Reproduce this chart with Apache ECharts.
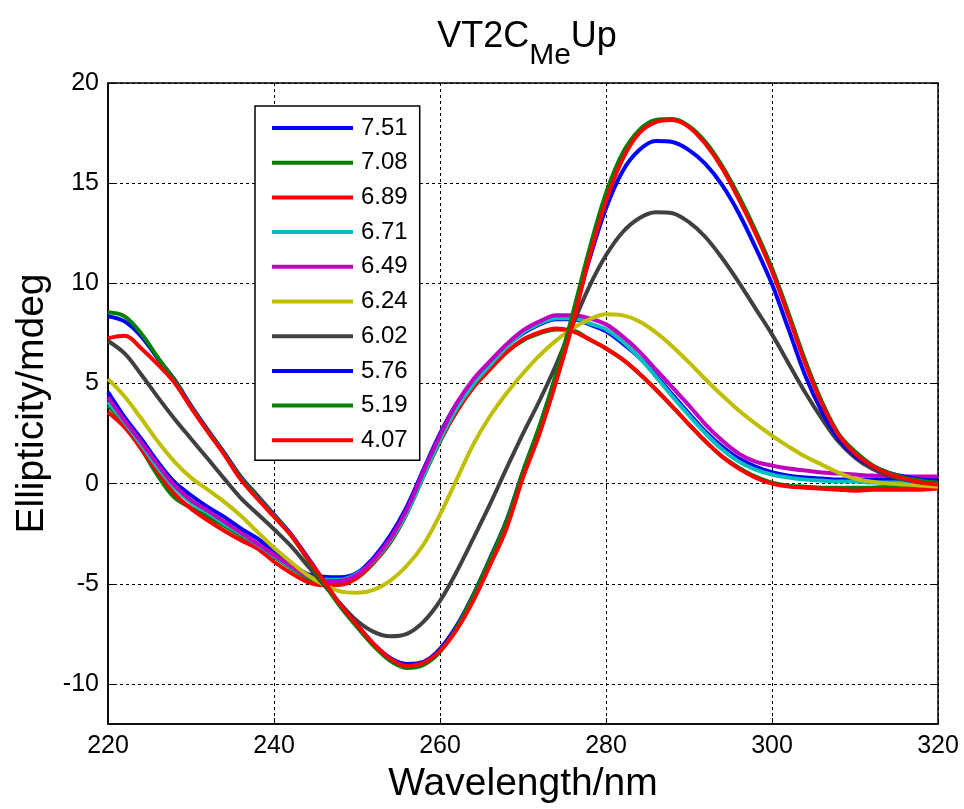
<!DOCTYPE html>
<html>
<head>
<meta charset="utf-8">
<script src="https://cdn.jsdelivr.net/npm/echarts@6/dist/echarts.min.js"></script>
<style>
html,body{margin:0;padding:0;background:#fff;}
#chart{width:964px;height:809px;}
</style>
</head>
<body>
<div id="chart"></div>
<script>
// Wavelength (nm)
const wavelengths = [220,222,224,226,228,230,232,234,236,238,240,242,244,246,248,250,252,254,256,258,260,262,264,266,268,270,272,274,276,278,280,282,284,286,288,290,292,294,296,298,300,302,304,306,308,310,312,314,316,318,320];

// Ellipticity (mdeg) per pH
const pH751 = [4.57,3.32,2.24,1.08,0.08,-0.58,-1.16,-1.66,-2.24,-2.74,-3.4,-3.99,-4.5,-4.65,-4.68,-4.45,-3.7,-2.6,-1.15,0.7,2.5,4.0,5.1,6.0,6.85,7.5,7.95,8.2,8.2,7.95,7.6,7.0,6.3,5.4,4.45,3.5,2.6,1.85,1.25,0.85,0.57,0.4,0.3,0.25,0.2,0.2,0.2,0.2,0.2,0.22,0.25];
const pH708 = [3.9,2.99,1.74,0.4,-0.7,-1.2,-1.65,-2.1,-2.6,-3.1,-3.65,-4.2,-4.7,-5.0,-5.0,-4.7,-3.95,-2.95,-1.5,0.35,2.1,3.6,4.8,5.7,6.55,7.15,7.5,7.7,7.65,7.2,6.75,6.2,5.5,4.7,3.85,2.95,2.1,1.35,0.8,0.35,0.05,-0.1,-0.15,-0.2,-0.2,-0.2,-0.2,-0.15,-0.15,-0.1,-0.1];
const pH689 = [3.57,2.82,1.74,0.58,-0.5,-1.25,-1.83,-2.35,-2.82,-3.24,-3.9,-4.45,-4.9,-5.07,-5.05,-4.7,-3.95,-2.9,-1.45,0.4,2.15,3.6,4.8,5.7,6.55,7.2,7.55,7.75,7.6,7.2,6.75,6.2,5.5,4.7,3.85,2.95,2.1,1.35,0.75,0.3,0.0,-0.15,-0.2,-0.25,-0.3,-0.35,-0.3,-0.3,-0.3,-0.3,-0.25];
const pH671 = [4.07,3.05,1.95,0.8,-0.2,-0.95,-1.45,-2.0,-2.5,-3.05,-3.6,-4.15,-4.6,-4.8,-4.8,-4.5,-3.85,-2.85,-1.45,0.4,2.2,3.75,4.95,5.9,6.8,7.55,8.0,8.25,8.25,8.0,7.7,7.1,6.3,5.35,4.35,3.4,2.5,1.7,1.1,0.7,0.45,0.3,0.2,0.15,0.1,0.1,0.05,0.05,0.05,0.05,0.0];
const pH649 = [4.32,3.15,2.08,0.95,-0.08,-0.83,-1.35,-1.9,-2.45,-3.0,-3.55,-4.1,-4.6,-4.87,-4.85,-4.55,-3.8,-2.75,-1.3,0.6,2.4,4.0,5.2,6.1,6.95,7.65,8.1,8.4,8.4,8.25,7.95,7.35,6.6,5.7,4.8,3.9,2.95,2.15,1.5,1.1,0.9,0.75,0.65,0.55,0.5,0.45,0.4,0.38,0.35,0.35,0.35];
const pH624 = [5.23,4.35,3.25,2.1,1.1,0.3,-0.3,-0.91,-1.6,-2.41,-3.2,-3.9,-4.55,-5.05,-5.38,-5.45,-5.3,-4.85,-4.1,-3.05,-1.55,0.2,1.95,3.35,4.5,5.5,6.4,7.15,7.75,8.2,8.45,8.4,8.1,7.55,6.85,6.05,5.2,4.4,3.65,3.0,2.4,1.85,1.35,0.95,0.55,0.25,0.1,0.0,-0.05,-0.1,-0.15];
const pH602 = [7.12,6.5,5.45,4.32,3.24,2.24,1.25,0.25,-0.72,-1.5,-2.28,-3.1,-4.07,-5.05,-6.0,-6.85,-7.4,-7.62,-7.5,-6.9,-5.85,-4.4,-2.75,-1.05,0.75,2.5,4.15,5.95,7.95,9.85,11.4,12.55,13.25,13.55,13.5,13.05,12.3,11.25,10.05,8.75,7.45,6.0,4.55,3.25,2.1,1.3,0.75,0.4,0.2,0.05,0.0];
const pH576 = [8.36,8.1,7.35,6.25,5.2,3.9,2.7,1.55,0.35,-0.6,-1.55,-2.5,-3.65,-4.85,-6.05,-7.05,-8.0,-8.7,-9.0,-8.9,-8.25,-7.1,-5.55,-3.75,-1.85,0.6,2.85,5.45,8.3,11.2,13.75,15.6,16.65,17.1,17.05,16.65,15.95,14.9,13.5,11.8,9.95,7.7,5.4,3.6,2.25,1.4,0.9,0.55,0.35,0.2,0.15];
const pH519 = [8.55,8.35,7.5,6.3,5.15,3.85,2.65,1.5,0.3,-0.65,-1.6,-2.55,-3.75,-4.95,-6.15,-7.15,-8.1,-8.85,-9.2,-9.05,-8.4,-7.2,-5.6,-3.8,-1.9,0.6,2.9,5.5,8.5,11.7,14.5,16.5,17.65,18.15,18.2,17.85,17.05,15.85,14.35,12.65,10.75,8.5,6.15,4.1,2.5,1.6,0.95,0.55,0.3,0.15,0.05];
const pH407 = [7.26,7.38,6.75,5.95,5.05,3.8,2.6,1.45,0.2,-0.75,-1.65,-2.55,-3.7,-4.85,-6.05,-7.05,-8.0,-8.75,-9.1,-8.95,-8.35,-7.3,-5.85,-4.1,-2.25,0.3,2.5,5.1,8.0,11.3,14.1,16.2,17.5,18.05,18.15,17.8,16.95,15.75,14.2,12.5,10.6,8.35,6.0,4.0,2.45,1.5,0.9,0.5,0.25,0.05,-0.05];

const seriesNames = ['7.51','7.08','6.89','6.71','6.49','6.24','6.02','5.76','5.19','4.07'];
const seriesValues = [pH751,pH708,pH689,pH671,pH649,pH624,pH602,pH576,pH519,pH407];
const seriesColors = ['#0000FF','#008000','#FF0000','#00BFBF','#BF00BF','#BFBF00','#404040','#0000FF','#008000','#FF0000'];

const xTicks = [220,240,260,280,300,320];
const yTicks = [-10,-5,0,5,10,15,20];

const FONT = '"Liberation Sans", Arial, Helvetica, sans-serif';

const chart = echarts.init(document.getElementById('chart'), null, {renderer:'canvas'});

const series = seriesNames.map((name, i) => ({
  name: name,
  type: 'line',
  xAxisIndex: 0,
  yAxisIndex: 0,
  data: wavelengths.map((w, j) => [w, seriesValues[i][j]]),
  symbol: 'none',
  smooth: 0.35,
  lineStyle: {color: seriesColors[i], width: 4},
  itemStyle: {color: seriesColors[i]},
  emphasis: {disabled: true},
  animation: false
}));

const option = {
  backgroundColor: '#ffffff',
  animation: false,
  title: {
    text: '{m|VT2C}{sub|Me}{m|Up}',
    left: 522,
    top: 14,
    textAlign: 'center',
    textStyle: {
      fontFamily: FONT,
      fontSize: 36,
      fontWeight: 'normal',
      color: '#000',
      rich: {
        m: {fontFamily: FONT, fontSize: 36, color: '#000', lineHeight: 36, verticalAlign: 'top'},
        sub: {fontFamily: FONT, fontSize: 30, color: '#000', lineHeight: 52, verticalAlign: 'bottom'}
      }
    }
  },
  grid: {
    left: 108, right: 26, top: 83, bottom: 83,
    show: true, borderColor: '#000', borderWidth: 1.5, backgroundColor: '#fff'
  },
  legend: {
    orient: 'vertical',
    left: 255,
    top: 106,
    data: seriesNames,
    itemWidth: 81,
    itemHeight: 24,
    itemGap: 10.7,
    padding: [10, 12, 8, 15],
    backgroundColor: '#fff',
    borderColor: '#000',
    borderWidth: 1.5,
    selectedMode: false,
    itemStyle: {opacity: 0},
    lineStyle: {width: 4},
    textStyle: {fontFamily: FONT, fontSize: 24, color: '#000', padding: [0, 0, 0, 3]}
  },
  xAxis: [{
    type: 'value', min: 220, max: 320, interval: 20,
    position: 'bottom',
    name: 'Wavelength/nm', nameLocation: 'middle', nameGap: 41,
    nameTextStyle: {fontFamily: FONT, fontSize: 39, color: '#000'},
    axisLine: {show: true, onZero: false, lineStyle: {color: '#000', width: 1.5}},
    axisTick: {show: true, inside: true, length: 6, customValues: xTicks, lineStyle: {color: '#000'}},
    axisLabel: {fontFamily: FONT, fontSize: 25, color: '#000', margin: 10, customValues: xTicks},
    splitLine: {show: true, lineStyle: {color: '#000', width: 1, type: [3, 3]}}
  }, {
    type: 'value', min: 220, max: 320, interval: 20,
    position: 'top',
    axisLine: {show: false},
    axisTick: {show: true, inside: true, length: 6, lineStyle: {color: '#000'}},
    axisLabel: {show: false},
    splitLine: {show: false}
  }],
  yAxis: [{
    type: 'value', min: -12, max: 20,
    position: 'left',
    name: 'Ellipticity/mdeg', nameLocation: 'middle', nameGap: 56,
    nameTextStyle: {fontFamily: FONT, fontSize: 39, color: '#000'},
    axisLine: {show: true, onZero: false, lineStyle: {color: '#000', width: 1.5}},
    axisTick: {show: true, inside: true, length: 6, customValues: yTicks, lineStyle: {color: '#000'}},
    axisLabel: {fontFamily: FONT, fontSize: 25, color: '#000', margin: 9, customValues: yTicks},
    splitLine: {show: true, lineStyle: {color: '#000', width: 1, type: [3, 3]}}
  }, {
    type: 'value', min: -12, max: 20,
    position: 'right',
    axisLine: {show: false},
    axisTick: {show: true, inside: true, length: 6, customValues: yTicks, lineStyle: {color: '#000'}},
    axisLabel: {show: false},
    splitLine: {show: false}
  }],
  series: series
};

chart.setOption(option);
</script>
</body>
</html>
